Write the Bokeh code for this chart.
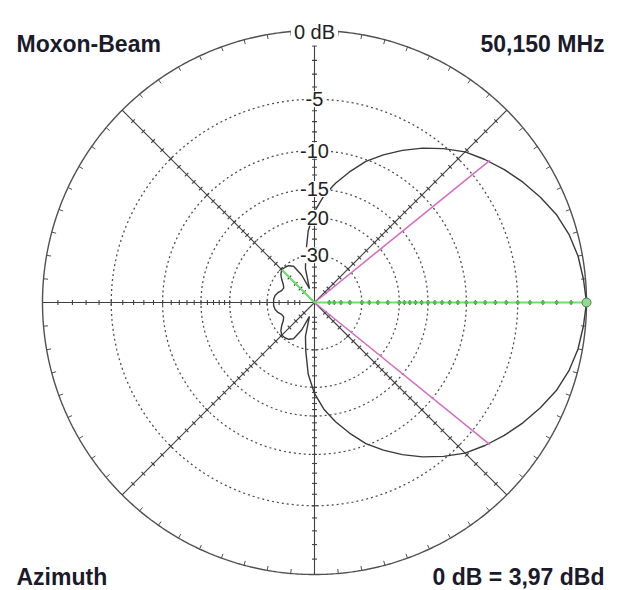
import numpy as np
from bokeh.plotting import figure
from bokeh.embed import file_html
from bokeh.resources import INLINE
from bokeh.core.properties import value

# ---------------- data ----------------
azimuth_deg = [0, 5, 10, 15, 20, 25, 30, 35, 40, 45, 50, 55, 60, 65, 70, 75, 80, 85, 90,
               95, 100, 105, 110, 115, 120, 125, 130, 135, 140, 145, 150, 155, 160, 165,
               170, 175, 180]
gain_db = [0.0, -0.13, -0.28, -0.55, -0.95, -1.5, -2.1, -2.75, -3.45, -4.2, -5.2, -6.3,
           -7.5, -8.8, -10.2, -12.0, -13.9, -16.0, -18.8, -22.8, -29.1, -35.2, -50.0,
           -37.8, -32.1, -30.9, -30.5, -30.4, -31.3, -32.9, -34.7, -35.7, -35.2, -33.8,
           -32.9, -32.5, -32.5]
ring_db = [-5, -10, -15, -20, -30]
ring_labels = ["-5", "-10", "-15", "-20", "-30"]
axis_tick_db = [-1, -2, -3, -4, -5, -6, -7, -8, -9, -10, -11, -12, -13, -14, -15, -16,
                -17, -18, -19, -20, -22.5, -25, -27.5, -30, -35, -40, -45, -50]
spoke_deg = [0, 45, 90, 135, 180, 225, 270, 315]
beam_half_angle = 39
beam_edge_db = -3.2
back_lobe_angle = 135
back_lobe_db = -30.4
max_db = 0.0

title_left = "Moxon-Beam"
title_right = "50,150 MHz"
foot_left = "Azimuth"
foot_right = "0 dB = 3,97 dBd"

# ---------------- ARRL log scale ----------------
R = 272.0


def rad(db):
    return R * 0.89 ** (-np.asarray(db, dtype=float) / 2.0)


def xy(r, deg):
    t = np.radians(deg)
    return r * np.cos(t), r * np.sin(t)


p = figure(width=619, height=590, x_range=(-314, 305), y_range=(-288, 302),
           output_backend="svg", toolbar_location=None, min_border=0,
           x_axis_location=None, y_axis_location=None)
p.grid.visible = False
p.outline_line_color = None
p.background_fill_color = "white"
p.border_fill_color = "white"

# dotted rings
th = np.linspace(0, 360, 721)
rxs, rys = [], []
for d in ring_db:
    x, y = xy(rad(d), th)
    rxs.append(list(x)); rys.append(list(y))
p.multi_line(rxs, rys, line_color="#505050", line_width=1.3, line_dash="2 3")

# outer circle
ox, oy = xy(R, th)
p.line(ox, oy, line_color="#505050", line_width=1.4)

# outer ticks every 5 degrees
tk = np.arange(0, 360, 5)
x0, y0 = xy(R, tk)
x1, y1 = xy(R - 4.5, tk)
p.segment(x0, y0, x1, y1, line_color="#505050", line_width=1)

# spokes
sx, sy = xy(R, np.array(spoke_deg))
p.segment(np.zeros(len(spoke_deg)), np.zeros(len(spoke_deg)), sx, sy,
          line_color="#404040", line_width=1.1)

# spoke ticks
tx0, ty0, tx1, ty1 = [], [], [], []
rt = rad(axis_tick_db)
for a in spoke_deg:
    cx, cy = xy(rt, a)
    nx, ny = -np.sin(np.radians(a)), np.cos(np.radians(a))
    tx0 += list(cx - 2.5 * nx); ty0 += list(cy - 2.5 * ny)
    tx1 += list(cx + 2.5 * nx); ty1 += list(cy + 2.5 * ny)
p.segment(tx0, ty0, tx1, ty1, line_color="#404040", line_width=1.1)

# pattern (mirror upper half)
az = np.array(azimuth_deg + [360 - a for a in azimuth_deg[-2::-1]], dtype=float)
g = np.array(gain_db + gain_db[-2::-1], dtype=float)
px, py = xy(rad(g), az)
p.line(px, py, line_color="#3a3a3a", line_width=1.4)

# -3 dB beamwidth lines
bx, by = xy(rad(beam_edge_db), np.array([beam_half_angle, -beam_half_angle]))
p.segment([0, 0], [0, 0], bx, by, line_color="#d46fc4", line_width=1.6)

# max-gain line and back lobe line
mx, my = xy(rad(max_db), 0)
p.segment([0], [0], [mx], [my], line_color="#6ee06e", line_width=2)
kx, ky = xy(rad(back_lobe_db), back_lobe_angle)
p.segment([0], [0], [kx], [ky], line_color="#6ee06e", line_width=2)
gx, gy = xy(rt, 0)
p.scatter(gx, gy, size=4, fill_color="#4fbf4f", line_color=None)
p.scatter([mx], [my], size=9, fill_color="#8fdc8f", line_color="#557755", line_width=1)

# ring labels
p.text([0] * len(ring_db), list(rad(ring_db)), text=ring_labels,
       text_font=value("Liberation Sans"), text_font_size="20px", text_color="#222222",
       text_align="center", text_baseline="middle",
       background_fill_color="white", padding=1)
p.text([0], [R - 1], text=["0 dB"], text_font=value("Liberation Sans"),
       text_font_size="20px", text_color="#222222", text_align="center",
       text_baseline="middle", background_fill_color="white", padding=3)

# titles
common = dict(text_font=value("Liberation Sans"), text_font_size="23px",
              text_font_style="bold", text_color="#1a1a2a", text_baseline="alphabetic")
p.text([-298], [259], text=[title_left], text_align="left", **common)
p.text([290], [259], text=[title_right], text_align="right", **common)
p.text([-298], [-274], text=[foot_left], text_align="left", **common)
p.text([290], [-274], text=[foot_right], text_align="right", **common)

open("out.html", "w").write(file_html(p, INLINE))
